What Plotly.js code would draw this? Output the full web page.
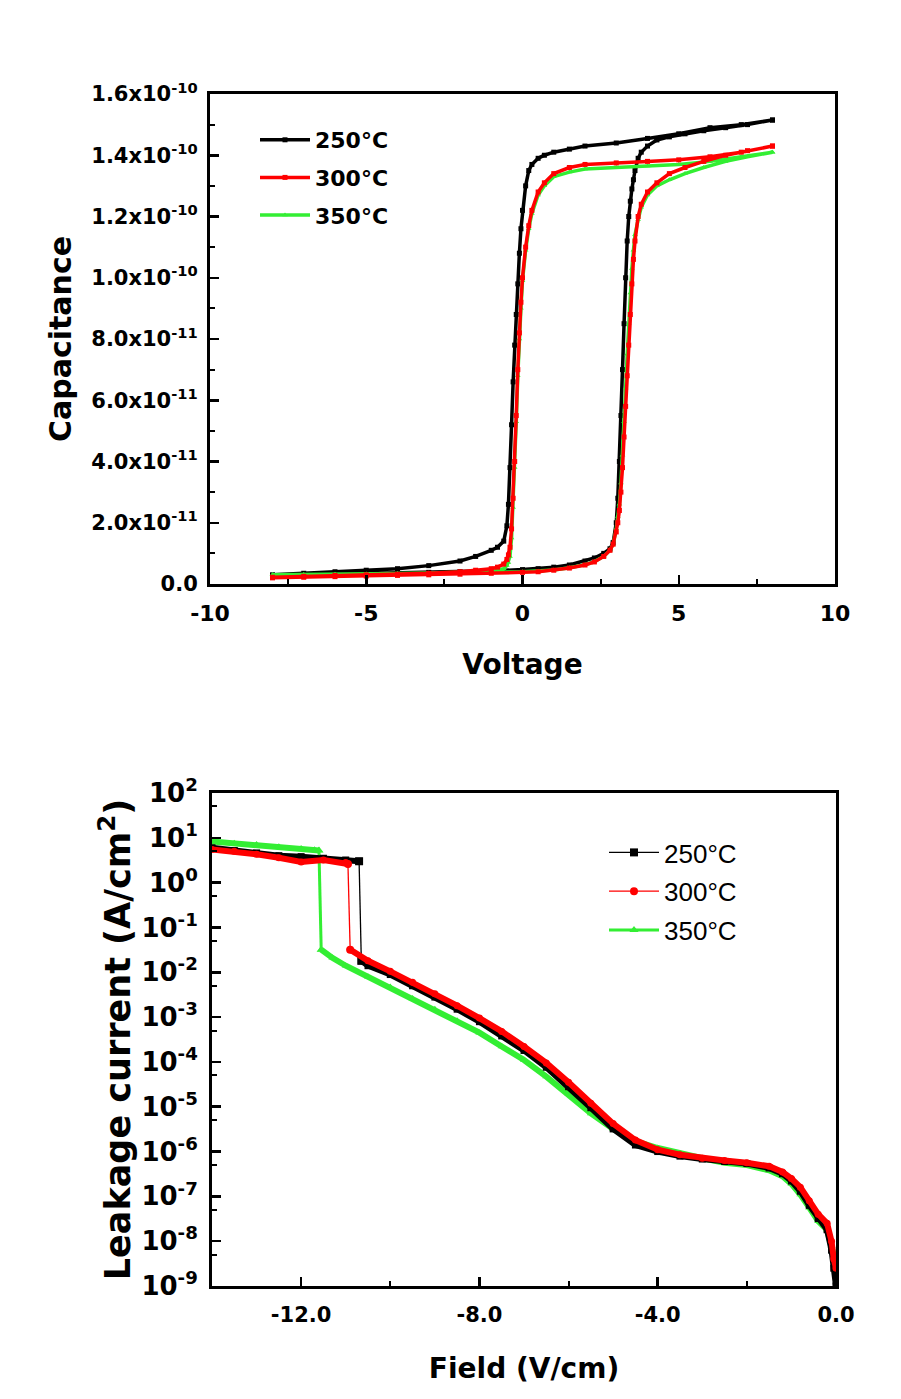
<!DOCTYPE html>
<html>
<head>
<meta charset="utf-8">
<script src="https://cdn.plot.ly/plotly-3.0.1.min.js"></script>
<style>html,body{margin:0;padding:0;background:#fff}#chart{width:901px;height:1399px}</style>
</head>
<body>
<div id="chart"></div>
<script>
// ---------- Top chart: C-V hysteresis (capacitance in units of 1e-10 F) ----------
const C_UNIT = 1e-10;
const seriesNames = ["250\u00B0C", "300\u00B0C", "350\u00B0C"];

const vUp = [-8,-7,-6,-5,-4,-3,-2,-1,0,0.5,1,1.5,2,2.3,2.6,2.8,2.9,3.0,3.05,3.1,3.15,3.2,3.25,3.3,3.35,3.4,3.45,3.5,3.55,3.6,3.7,3.8,4.0,4.3,4.7,5.2,5.8,6.5,7.2,8];
const cUp250 = [0.028,0.030,0.032,0.034,0.036,0.038,0.040,0.043,0.047,0.050,0.055,0.062,0.075,0.085,0.10,0.115,0.135,0.20,0.28,0.40,0.55,0.70,0.85,1.0,1.12,1.20,1.25,1.29,1.32,1.35,1.39,1.41,1.43,1.45,1.46,1.47,1.48,1.49,1.50,1.515];
const cUp300 = [0.020,0.022,0.024,0.026,0.028,0.030,0.032,0.035,0.038,0.040,0.045,0.052,0.062,0.072,0.09,0.11,0.13,0.17,0.20,0.24,0.30,0.38,0.48,0.58,0.68,0.78,0.88,0.98,1.06,1.12,1.20,1.24,1.28,1.31,1.34,1.36,1.38,1.40,1.415,1.43];
const cUp350 = [0.030,0.030,0.031,0.032,0.033,0.034,0.036,0.038,0.040,0.042,0.046,0.053,0.063,0.073,0.09,0.11,0.13,0.18,0.22,0.26,0.33,0.42,0.53,0.64,0.75,0.85,0.95,1.03,1.09,1.14,1.19,1.23,1.27,1.30,1.32,1.34,1.36,1.38,1.395,1.41];

const vDown = [8,7,6,5,4,3,2,1.5,1,0.7,0.5,0.3,0.2,0.1,0,-0.05,-0.1,-0.15,-0.2,-0.25,-0.3,-0.35,-0.4,-0.45,-0.5,-0.6,-0.8,-1,-1.5,-2,-3,-4,-5,-6,-7,-8];
const cDown250 = [1.515,1.50,1.49,1.47,1.455,1.44,1.43,1.42,1.41,1.40,1.39,1.37,1.35,1.30,1.22,1.16,1.08,0.98,0.88,0.78,0.66,0.52,0.38,0.26,0.19,0.14,0.12,0.11,0.09,0.075,0.06,0.05,0.045,0.04,0.035,0.03];
const cDown300 = [1.43,1.41,1.395,1.385,1.38,1.375,1.37,1.36,1.34,1.31,1.28,1.22,1.17,1.10,1.0,0.92,0.82,0.70,0.55,0.40,0.28,0.18,0.12,0.095,0.08,0.065,0.055,0.05,0.045,0.04,0.035,0.032,0.03,0.028,0.025,0.022];
const cDown350 = [1.41,1.395,1.38,1.37,1.365,1.36,1.355,1.345,1.33,1.30,1.27,1.21,1.16,1.09,0.99,0.90,0.80,0.68,0.53,0.38,0.25,0.15,0.09,0.07,0.06,0.05,0.045,0.042,0.04,0.038,0.036,0.034,0.033,0.032,0.031,0.03];

const capTickVals = [0,0.2,0.4,0.6,0.8,1.0,1.2,1.4,1.6];
const capTickText = ["0.0","2.0x10<sup>-11</sup>","4.0x10<sup>-11</sup>","6.0x10<sup>-11</sup>","8.0x10<sup>-11</sup>","1.0x10<sup>-10</sup>","1.2x10<sup>-10</sup>","1.4x10<sup>-10</sup>","1.6x10<sup>-10</sup>"];
const voltTickVals = [-10,-5,0,5,10];
const voltTickText = ["-10","-5","0","5","10"];

// ---------- Bottom chart: leakage current (A/cm2) vs field ----------
const hiE250 = [-14,-13.5,-13,-12.5,-12,-11.5,-11,-10.7];
const hiJ250 = [6.0,5.2,4.6,4.0,3.8,3.5,3.2,3.0];
const loE250 = [-10.65,-10.5,-10,-9.5,-9,-8.5,-8,-7.5,-7,-6.5,-6,-5.5,-5,-4.5,-4,-3.5,-3,-2.5,-2,-1.5,-1.2,-1,-0.8,-0.6,-0.4,-0.2,-0.1,-0.05,0];
const loJ250 = [1.8e-2,1.4e-2,8.9e-3,5.0e-3,2.8e-3,1.5e-3,7.9e-4,3.8e-4,1.8e-4,7.6e-5,2.8e-5,9.5e-6,3.2e-6,1.4e-6,1.0e-6,7.9e-7,6.8e-7,6.0e-7,5.4e-7,4.3e-7,3.2e-7,2.2e-7,1.3e-7,6.3e-8,3.2e-8,1.8e-8,6.3e-9,2.5e-9,1.0e-9];

const hiE300 = [-14,-13.5,-13,-12.5,-12,-11.5,-11,-10.95];
const hiJ300 = [5.5,5.0,4.3,3.6,2.9,3.2,2.8,2.6];
const loE300 = [-10.9,-10.5,-10,-9.5,-9,-8.5,-8,-7.5,-7,-6.5,-6,-5.5,-5,-4.5,-4,-3.5,-3,-2.5,-2,-1.5,-1.2,-1,-0.8,-0.6,-0.4,-0.2,-0.1,-0.05,0];
const loJ300 = [3.2e-2,1.8e-2,1.05e-2,6.0e-3,3.3e-3,1.8e-3,9.5e-4,4.8e-4,2.2e-4,9.5e-5,3.5e-5,1.2e-5,4.2e-6,1.8e-6,1.1e-6,8.5e-7,7.1e-7,6.3e-7,5.6e-7,4.7e-7,3.5e-7,2.5e-7,1.6e-7,8e-8,4e-8,2.5e-8,1e-8,4e-9,2.5e-9];

const hiE350 = [-14,-13.5,-13,-12.5,-12,-11.7,-11.6];
const hiJ350 = [8.3,7.6,7.1,6.3,5.8,5.4,5.2];
const loE350 = [-11.55,-11.3,-11,-10.5,-10,-9.5,-9,-8.5,-8,-7.5,-7,-6.5,-6,-5.5,-5,-4.5,-4,-3.5,-3,-2.5,-2,-1.5,-1.2,-1,-0.8,-0.6,-0.4,-0.2,-0.1,-0.05,0];
const loJ350 = [3.2e-2,2.1e-2,1.4e-2,7.9e-3,4.7e-3,2.6e-3,1.5e-3,8.3e-4,4.5e-4,2.2e-4,1.1e-4,4.7e-5,1.9e-5,7.1e-6,3.2e-6,1.7e-6,1.2e-6,8.9e-7,7.1e-7,5.6e-7,5.0e-7,3.8e-7,2.8e-7,1.9e-7,1.1e-7,5.6e-8,2.8e-8,1.8e-8,7.9e-9,4.5e-9,3.2e-9];

const fieldTickVals = [-12,-8,-4,0];
const fieldTickText = ["-12.0","-8.0","-4.0","0.0"];
const fieldMinorVals = [-10,-6,-2];
const jTickVals = [1e-9,1e-8,1e-7,1e-6,1e-5,1e-4,1e-3,1e-2,1e-1,1e0,1e1,1e2];
const jTickText = ["10<sup>-9</sup>","10<sup>-8</sup>","10<sup>-7</sup>","10<sup>-6</sup>","10<sup>-5</sup>","10<sup>-4</sup>","10<sup>-3</sup>","10<sup>-2</sup>","10<sup>-1</sup>","10<sup>0</sup>","10<sup>1</sup>","10<sup>2</sup>"];
const jMinorVals = [5e-9,5e-8,5e-7,5e-6,5e-5,5e-4,5e-3,5e-2,5e-1,5e0,5e1];

// ---------- styles ----------
const colors = ["#000000", "#ff0000", "#33ee33"];
const topSymbols = ["square", "square", "triangle-up"];
const botSymbols = ["square", "circle", "triangle-up"];
const BOLD = "DejaVu Sans, Liberation Sans, Arial, sans-serif";
const PLAIN = "Liberation Sans, Arial, sans-serif";

const cvData = [[cUp250, cDown250], [cUp300, cDown300], [cUp350, cDown350]];
const jeData = [
  [hiE250, hiJ250, loE250, loJ250],
  [hiE300, hiJ300, loE300, loJ300],
  [hiE350, hiJ350, loE350, loJ350]
];

const traces = [];
// top: draw order black, green, red
[0, 2, 1].forEach(i => {
  const [up, down] = cvData[i];
  traces.push({
    x: vUp.concat(vDown),
    y: up.concat(down).map(v => v * C_UNIT),
    xaxis: "x", yaxis: "y",
    mode: "lines+markers",
    name: seriesNames[i],
    legend: "legend",
    legendrank: i + 1,
    legendgroup: "t" + i,
    line: {color: colors[i], width: 3.5},
    marker: {color: colors[i], symbol: topSymbols[i], size: 5},
    hoverinfo: "skip"
  });
});

// bottom: draw order green, black, red
[2, 0, 1].forEach(i => {
  const [hE, hJ, lE, lJ] = jeData[i];
  const bandStyle = {
    xaxis: "x2", yaxis: "y2", mode: "lines+markers", showlegend: false, hoverinfo: "skip",
    line: {color: colors[i], width: 6},
    marker: {color: colors[i], symbol: botSymbols[i], size: 7}
  };
  traces.push(Object.assign({x: hE, y: hJ}, bandStyle));
  traces.push(Object.assign({x: lE, y: lJ}, bandStyle));
  traces.push({
    x: [hE[hE.length - 1], lE[0]],
    y: [hJ[hJ.length - 1], lJ[0]],
    xaxis: "x2", yaxis: "y2",
    mode: "lines+markers",
    name: seriesNames[i],
    legend: "legend2",
    legendrank: i + 1,
    legendgroup: "b" + i,
    line: {color: colors[i], width: i === 2 ? 3 : 1.3},
    marker: {color: colors[i], symbol: botSymbols[i], size: 8},
    hoverinfo: "skip"
  });
});

const axisCommon = {
  showline: true, linecolor: "#000", linewidth: 3, mirror: true,
  ticks: "inside", ticklen: 9, tickwidth: 2.5, tickcolor: "#000",
  showgrid: false, zeroline: false
};
const minorCommon = {ticks: "inside", ticklen: 5, tickwidth: 2, tickcolor: "#000"};

const W = 901, H = 1399;
const layout = {
  width: W, height: H,
  margin: {l: 0, r: 0, t: 0, b: 0},
  paper_bgcolor: "#fff", plot_bgcolor: "#fff",
  showlegend: true,
  xaxis: Object.assign({}, axisCommon, {
    domain: [210 / W, 835 / W], anchor: "y",
    range: [-10, 10], tickmode: "array", tickvals: voltTickVals, ticktext: voltTickText,
    ticklabelstandoff: 8,
    tickfont: {family: BOLD, size: 22, color: "#000", weight: "bold"},
    minor: Object.assign({dtick: 2.5, tick0: 0}, minorCommon),
    title: {text: "Voltage", font: {family: BOLD, size: 28, color: "#000", weight: "bold"}, standoff: 29}
  }),
  yaxis: Object.assign({}, axisCommon, {
    domain: [1 - 584 / H, 1 - 94 / H], anchor: "x",
    range: [0, 1.6e-10], tickmode: "array",
    tickvals: capTickVals.map(v => v * C_UNIT), ticktext: capTickText,
    ticklabelstandoff: 5,
    tickfont: {family: BOLD, size: 21, color: "#000", weight: "bold"},
    minor: Object.assign({dtick: 1e-11, tick0: 0}, minorCommon),
    title: {text: "Capacitance", font: {family: BOLD, size: 30, color: "#000", weight: "bold"}, standoff: 11}
  }),
  xaxis2: Object.assign({}, axisCommon, {
    domain: [212 / W, 836 / W], anchor: "y2",
    range: [-14, 0], tickmode: "array", tickvals: fieldTickVals, ticktext: fieldTickText,
    ticklabelstandoff: 8,
    tickfont: {family: BOLD, size: 21, color: "#000", weight: "bold"},
    minor: Object.assign({tickmode: "array", tickvals: fieldMinorVals}, minorCommon),
    title: {text: "Field (V/cm)", font: {family: BOLD, size: 28, color: "#000", weight: "bold"}, standoff: 33}
  }),
  yaxis2: Object.assign({}, axisCommon, {
    domain: [1 - 1286 / H, 1 - 793 / H], anchor: "x2",
    type: "log", range: [-9, 2], tickmode: "array", tickvals: jTickVals, ticktext: jTickText,
    ticklabelstandoff: 6,
    tickfont: {family: BOLD, size: 26, color: "#000", weight: "bold"},
    minor: Object.assign({tickmode: "array", tickvals: jMinorVals}, minorCommon),
    title: {text: "Leakage current (A/cm<sup>2</sup>)", font: {family: BOLD, size: 35, color: "#000", weight: "bold"}, standoff: 1}
  }),
  legend: {
    x: 255 / W, y: 1 - 119 / H, xanchor: "left", yanchor: "top",
    bgcolor: "rgba(0,0,0,0)", borderwidth: 0,
    traceorder: "grouped", tracegroupgap: 6, itemwidth: 50,
    font: {family: BOLD, size: 22, color: "#000", weight: "bold"}
  },
  legend2: {
    x: 604 / W, y: 1 - 829 / H, xanchor: "left", yanchor: "top",
    bgcolor: "rgba(0,0,0,0)", borderwidth: 0,
    traceorder: "grouped", tracegroupgap: 2, itemwidth: 50,
    font: {family: PLAIN, size: 26, color: "#000"}
  }
};

Plotly.newPlot("chart", traces, layout, {staticPlot: true, displayModeBar: false});
</script>
</body>
</html>
